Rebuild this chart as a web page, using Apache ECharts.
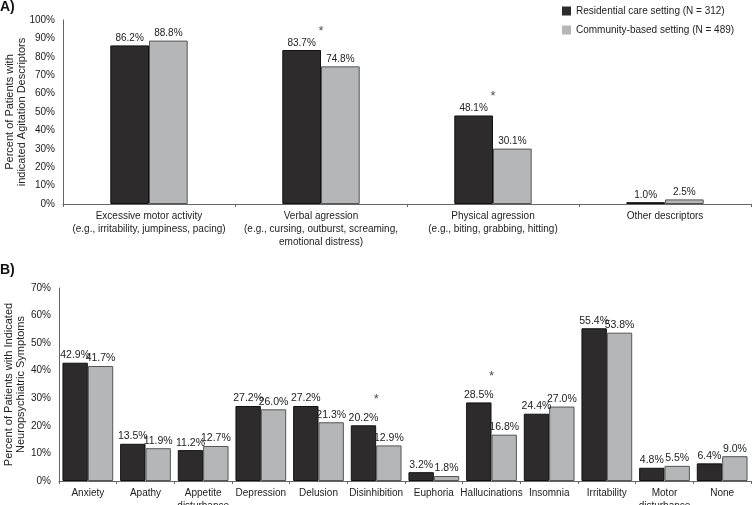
<!DOCTYPE html>
<html>
<head>
<meta charset="utf-8">
<script src="https://cdn.jsdelivr.net/npm/echarts@6/dist/echarts.min.js"></script>
<style>
  html, body { margin: 0; padding: 0; background: #fff; }
  #chart { width: 753px; height: 505px; }
</style>
</head>
<body>
<div id="chart"></div>
<script>
// panel A: agitation descriptors
const catsA = [
  'Excessive motor activity\n(e.g., irritability, jumpiness, pacing)',
  'Verbal agression\n(e.g., cursing, outburst, screaming,\nemotional distress)',
  'Physical agression\n(e.g., biting, grabbing, hitting)',
  'Other descriptors'
];
const residentialA = [86.2, 83.7, 48.1, 1.0];
const communityA = [88.8, 74.8, 30.1, 2.5];
const sigA = [false, true, true, false];

// panel B: neuropsychiatric symptoms
const catsB = ['Anxiety', 'Apathy', 'Appetite\ndisturbance', 'Depression', 'Delusion', 'Disinhibition',
  'Euphoria', 'Hallucinations', 'Insomnia', 'Irritability', 'Motor\ndisturbance', 'None'];
const residentialB = [42.9, 13.5, 11.2, 27.2, 27.2, 20.2, 3.2, 28.5, 24.4, 55.4, 4.8, 6.4];
const communityB = [41.7, 11.9, 12.7, 26.0, 21.3, 12.9, 1.8, 16.8, 27.0, 53.8, 5.5, 9.0];
const sigB = [false, false, false, false, false, true, false, true, false, false, false, false];

const nameRes = 'Residential care setting (N = 312)';
const nameCom = 'Community-based setting (N = 489)';
const DARK = '#2d2b2c';
const GRAY = '#b5b6b8';
const FONT = 'Liberation Sans';

const chart = echarts.init(document.getElementById('chart'));

function pct(p) { return p.value.toFixed(1) + '%'; }

function barSeries(name, data, idx, color, border) {
  return {
    name: name,
    type: 'bar',
    xAxisIndex: idx,
    yAxisIndex: idx,
    data: data,
    barGap: 0,
    barCategoryGap: idx === 0 ? '55%' : '12%',
    itemStyle: { color: color, borderColor: border, borderWidth: 1 },
    label: {
      show: true, position: 'top', distance: 2, formatter: pct,
      color: '#222', fontFamily: FONT, fontSize: idx === 0 ? 10 : 10.5
    },
    animation: false
  };
}

function starSeries(res, com, sig, idx, off) {
  return {
    type: 'scatter',
    xAxisIndex: idx,
    yAxisIndex: idx,
    symbolSize: 0,
    data: sig.map((s, i) => s ? [i, Math.max(res[i], com[i])] : null).filter(d => d),
    label: {
      show: true, position: 'inside', formatter: '*', offset: [0, off],
      color: '#222', fontFamily: FONT, fontSize: 13
    },
    silent: true,
    animation: false
  };
}

function xAxis(cats, idx) {
  return {
    type: 'category',
    gridIndex: idx,
    data: cats,
    axisLine: { lineStyle: { color: '#666', width: 1 } },
    axisTick: { show: true, length: 3, lineStyle: { color: '#666' } },
    axisLabel: { interval: 0, color: '#222', fontFamily: FONT, fontSize: 10, lineHeight: 13, margin: 6 }
  };
}

function yAxis(idx, max, name, gap) {
  return {
    type: 'value',
    gridIndex: idx,
    min: 0,
    max: max,
    interval: 10,
    name: name,
    nameLocation: 'middle',
    nameRotate: 90,
    nameGap: gap,
    nameMoveOverlap: false,
    nameTextStyle: { color: '#222', fontFamily: FONT, fontSize: 11, lineHeight: 12 },
    axisLine: { show: true, lineStyle: { color: '#666', width: 1 } },
    axisTick: { show: false },
    splitLine: { show: false },
    axisLabel: { formatter: '{value}%', color: '#222', fontFamily: FONT, fontSize: 10, margin: 8 }
  };
}

chart.setOption({
  backgroundColor: '#fff',
  title: [
    { text: 'A)', left: 0, top: 0, padding: 0, textStyle: { fontFamily: FONT, fontSize: 14, fontWeight: 'bold', color: '#111' } },
    { text: 'B)', left: 0, top: 263, padding: 0, textStyle: { fontFamily: FONT, fontSize: 14, fontWeight: 'bold', color: '#111' } }
  ],
  legend: {
    data: [nameRes, nameCom],
    orient: 'vertical',
    left: 557,
    top: 1,
    itemWidth: 9,
    itemHeight: 9,
    itemGap: 9,
    icon: 'rect',
    itemStyle: { borderWidth: 0 },
    textStyle: { color: '#222', fontFamily: FONT, fontSize: 10 }
  },
  grid: [
    { left: 63, top: 20, width: 688, height: 184, outerBoundsMode: 'none', containLabel: false },
    { left: 59, top: 288, width: 692, height: 193, outerBoundsMode: 'none', containLabel: false }
  ],
  xAxis: [xAxis(catsA, 0), xAxis(catsB, 1)],
  yAxis: [
    yAxis(0, 100, 'Percent of Patients with\nindicated Agitation Descriptors', 35),
    yAxis(1, 70, 'Percent of Patients with Indicated\nNeuropsychiatric Symptoms', 32)
  ],
  series: [
    barSeries(nameRes, residentialA, 0, DARK, '#111'),
    barSeries(nameCom, communityA, 0, GRAY, '#555'),
    barSeries(nameRes, residentialB, 1, DARK, '#111'),
    barSeries(nameCom, communityB, 1, GRAY, '#555'),
    starSeries(residentialA, communityA, sigA, 0, -19),
    starSeries(residentialB, communityB, sigB, 1, -26)
  ]
});
</script>
</body>
</html>
